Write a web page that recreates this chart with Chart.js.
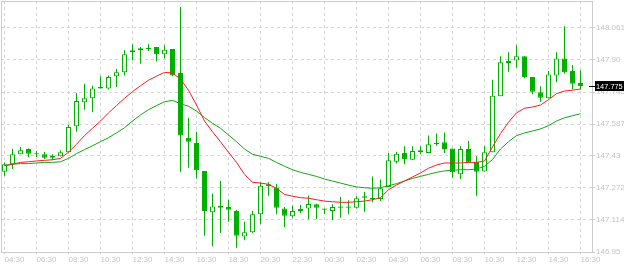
<!DOCTYPE html>
<html>
<head>
<meta charset="utf-8">
<script src="https://cdn.jsdelivr.net/npm/chart.js@4.4.1/dist/chart.umd.min.js"></script>
<style>
  html, body { margin: 0; padding: 0; background: #fff; }
  #wrap { width: 624px; height: 266px; }
</style>
</head>
<body>
<div id="wrap"><canvas id="chart" width="624" height="266"></canvas></div>
<script>
// 30 minute candles, one x tick every 4 bars
const xTickLabels = ["04:30", "06:30", "08:30", "10:30", "12:30", "14:30", "16:30", "18:30", "20:30", "22:30",
  "00:30", "02:30", "04:30", "06:30", "08:30", "10:30", "12:30", "14:30", "16:30"];
const yTickValues = [146.956, 147.114, 147.272, 147.430, 147.587, 147.745, 147.903, 148.061];
const yTickLabels = ["146.95", "147.114", "147.272", "147.43", "147.587", "147.745", "147.90", "148.061"];

const open = [147.352, 147.389, 147.438, 147.464, 147.438, 147.438, 147.431, 147.428, 147.448, 147.576,
  147.694, 147.714, 147.770, 147.763, 147.823, 147.842, 147.941, 147.951, 147.957, 147.967,
  147.931, 147.957, 147.839, 147.520, 147.494, 147.356, 147.152, 147.184, 147.178, 147.158,
  147.033, 147.053, 147.142, 147.290, 147.273, 147.171, 147.132, 147.158, 147.171, 147.191,
  147.171, 147.158, 147.181, 147.181, 147.174, 147.231, 147.224, 147.217, 147.277, 147.401,
  147.444, 147.411, 147.458, 147.444, 147.494, 147.497, 147.467, 147.339, 147.464, 147.400,
  147.353, 147.448, 147.724, 147.888, 147.901, 147.921, 147.819, 147.744, 147.714, 147.826,
  147.911, 147.849, 147.790];
const high = [147.398, 147.464, 147.474, 147.467, 147.454, 147.451, 147.438, 147.458, 147.582, 147.740,
  147.786, 147.776, 147.823, 147.826, 147.859, 147.951, 147.981, 147.967, 147.981, 147.967,
  147.977, 147.957, 148.164, 147.618, 147.549, 147.356, 147.244, 147.306, 147.214, 147.165,
  147.105, 147.158, 147.300, 147.300, 147.293, 147.178, 147.184, 147.188, 147.235, 147.194,
  147.171, 147.191, 147.227, 147.211, 147.231, 147.253, 147.329, 147.313, 147.444, 147.451,
  147.477, 147.477, 147.477, 147.530, 147.540, 147.546, 147.467, 147.477, 147.503, 147.428,
  147.479, 147.806, 147.921, 147.941, 147.977, 147.921, 147.819, 147.773, 147.849, 147.941,
  148.069, 147.878, 147.852];
const low = [147.332, 147.365, 147.438, 147.425, 147.425, 147.415, 147.408, 147.428, 147.448, 147.549,
  147.658, 147.645, 147.763, 147.757, 147.770, 147.826, 147.902, 147.885, 147.947, 147.895,
  147.911, 147.823, 147.352, 147.372, 147.319, 147.036, 146.984, 147.050, 147.105, 146.977,
  147.014, 147.050, 147.093, 147.234, 147.142, 147.079, 147.125, 147.148, 147.117, 147.119,
  147.142, 147.112, 147.125, 147.142, 147.171, 147.155, 147.201, 147.208, 147.277, 147.392,
  147.389, 147.408, 147.438, 147.444, 147.480, 147.444, 147.322, 147.316, 147.398, 147.234,
  147.353, 147.448, 147.724, 147.845, 147.865, 147.813, 147.734, 147.697, 147.714, 147.793,
  147.835, 147.757, 147.757];
const close = [147.389, 147.438, 147.458, 147.441, 147.438, 147.421, 147.421, 147.448, 147.573, 147.701,
  147.714, 147.763, 147.763, 147.819, 147.842, 147.931, 147.951, 147.961, 147.957, 147.931,
  147.954, 147.826, 147.530, 147.500, 147.359, 147.158, 147.181, 147.174, 147.165, 147.036,
  147.053, 147.142, 147.283, 147.280, 147.174, 147.135, 147.158, 147.168, 147.193, 147.174,
  147.165, 147.178, 147.174, 147.174, 147.221, 147.224, 147.217, 147.270, 147.408, 147.441,
  147.415, 147.454, 147.448, 147.487, 147.487, 147.464, 147.349, 147.464, 147.398, 147.352,
  147.448, 147.727, 147.892, 147.898, 147.921, 147.819, 147.747, 147.717, 147.832, 147.911,
  147.842, 147.786, 147.775];

// moving averages
const maFast = [147.382, 147.389, 147.398, 147.401, 147.405, 147.408, 147.411, 147.418, 147.448, 147.487,
  147.530, 147.566, 147.602, 147.642, 147.678, 147.714, 147.747, 147.776, 147.803, 147.823,
  147.842, 147.839, 147.809, 147.754, 147.681, 147.602, 147.549, 147.500, 147.448, 147.398,
  147.339, 147.300, 147.296, 147.290, 147.270, 147.240, 147.231, 147.224, 147.221, 147.214,
  147.207, 147.204, 147.201, 147.201, 147.204, 147.207, 147.214, 147.224, 147.263, 147.286,
  147.306, 147.326, 147.346, 147.369, 147.385, 147.395, 147.395, 147.395, 147.398, 147.398,
  147.405, 147.474, 147.540, 147.596, 147.642, 147.665, 147.671, 147.681, 147.707, 147.737,
  147.750, 147.754, 147.760];
const maSlow = [147.382, 147.389, 147.392, 147.392, 147.395, 147.398, 147.398, 147.401, 147.418, 147.441,
  147.461, 147.480, 147.500, 147.520, 147.543, 147.569, 147.602, 147.632, 147.658, 147.678,
  147.697, 147.704, 147.687, 147.675, 147.651, 147.619, 147.591, 147.566, 147.533, 147.500,
  147.464, 147.438, 147.428, 147.418, 147.398, 147.379, 147.362, 147.349, 147.339, 147.329,
  147.316, 147.306, 147.296, 147.286, 147.277, 147.273, 147.270, 147.273, 147.283, 147.293,
  147.306, 147.319, 147.329, 147.339, 147.349, 147.356, 147.359, 147.362, 147.362, 147.365,
  147.379, 147.412, 147.464, 147.500, 147.530, 147.543, 147.553, 147.563, 147.579, 147.602,
  147.618, 147.628, 147.638];

const candleGreen = "#00b000";
const gridColor = "#d6d6d6";
const frameColor = "#cdcdcd";
const labelColor = "#c4c4c4";

Chart.defaults.font.family = "'Liberation Sans', Arial, sans-serif";
Chart.defaults.font.size = 8;
Chart.defaults.color = labelColor;

// box round the plot
const framePlugin = {
  id: "frame",
  beforeDatasetsDraw(chart) {
    const { ctx, chartArea: a } = chart;
    ctx.save();
    ctx.strokeStyle = frameColor;
    ctx.lineWidth = 1;
    ctx.strokeRect(Math.round(a.left) + 0.5, Math.round(a.top) + 0.5,
      Math.round(a.right - a.left), Math.round(a.bottom - a.top));
    ctx.restore();
  }
};

// black tag with the last close on the price axis
const lastPricePlugin = {
  id: "lastPrice",
  afterDraw(chart) {
    const { ctx, chartArea: a } = chart;
    const yScale = chart.scales.y;
    const last = close[close.length - 1];
    const y = Math.round(yScale.getPixelForValue(last));
    ctx.save();
    ctx.fillStyle = "#000";
    ctx.fillRect(a.right - 3, y, 6, 1);
    ctx.fillRect(a.right + 3, y - 5, 29, 10);
    ctx.fillStyle = "#fff";
    ctx.font = "7.4px 'Liberation Sans', Arial, sans-serif";
    ctx.textBaseline = "middle";
    ctx.textAlign = "left";
    ctx.fillText(last.toFixed(3), a.right + 4, y + 0.5);
    ctx.restore();
  }
};

const idx = close.map((_, i) => i);

new Chart(document.getElementById("chart"), {
  type: "bar",
  data: {
    datasets: [
      {
        type: "line",
        order: 0,
        data: idx.map(i => ({ x: i, y: maFast[i] })),
        borderColor: "#ff1a1a",
        borderWidth: 1,
        pointRadius: 0,
        tension: 0,
        fill: false
      },
      {
        type: "line",
        order: 1,
        data: idx.map(i => ({ x: i, y: maSlow[i] })),
        borderColor: "#10a810",
        borderWidth: 1,
        pointRadius: 0,
        tension: 0,
        fill: false
      },
      {
        order: 2,
        grouped: false,
        data: idx.map(i => ({ x: i, y: [open[i], close[i]] })),
        backgroundColor: idx.map(i => close[i] > open[i] ? "#ffffff" : candleGreen),
        borderColor: candleGreen,
        borderWidth: 1,
        borderSkipped: false,
        barThickness: 5,
        minBarLength: 1,
        inflateAmount: 0
      },
      {
        order: 3,
        grouped: false,
        data: idx.map(i => ({ x: i, y: [low[i], high[i]] })),
        backgroundColor: candleGreen,
        borderWidth: 0,
        barThickness: 1,
        inflateAmount: 0
      }
    ]
  },
  options: {
    responsive: false,
    animation: false,
    events: [],
    layout: { padding: { left: 1, top: 1, right: 0, bottom: 0 } },
    plugins: {
      legend: { display: false },
      tooltip: { enabled: false }
    },
    scales: {
      x: {
        type: "linear",
        min: -0.43625,
        max: 73.43875,
        offset: false,
        grid: {
          offset: false,
          color: gridColor,
          tickLength: 2,
          tickColor: frameColor,
          tickBorderDash: []
        },
        border: { display: false, dash: [3, 3] },
        ticks: {
          align: "start",
          autoSkip: false,
          maxRotation: 0,
          padding: 1,
          callback: (v, i) => xTickLabels[i]
        },
        afterBuildTicks: s => { s.ticks = xTickLabels.map((_, i) => ({ value: i * 4 })); },
        afterFit: s => { s.height = 14; s.paddingLeft = 0; s.paddingRight = 0; }
      },
      y: {
        type: "linear",
        position: "right",
        min: 146.956,
        max: 148.194,
        grid: {
          color: gridColor,
          tickLength: 3,
          tickColor: frameColor,
          tickBorderDash: []
        },
        border: { display: false, dash: [3, 3] },
        ticks: {
          padding: 1,
          callback: (v, i) => yTickLabels[i]
        },
        afterBuildTicks: s => { s.ticks = yTickValues.map(v => ({ value: v })); },
        afterFit: s => { s.width = 32; s.paddingTop = 0; s.paddingBottom = 0; }
      }
    }
  },
  plugins: [framePlugin, lastPricePlugin]
});
</script>
</body>
</html>
